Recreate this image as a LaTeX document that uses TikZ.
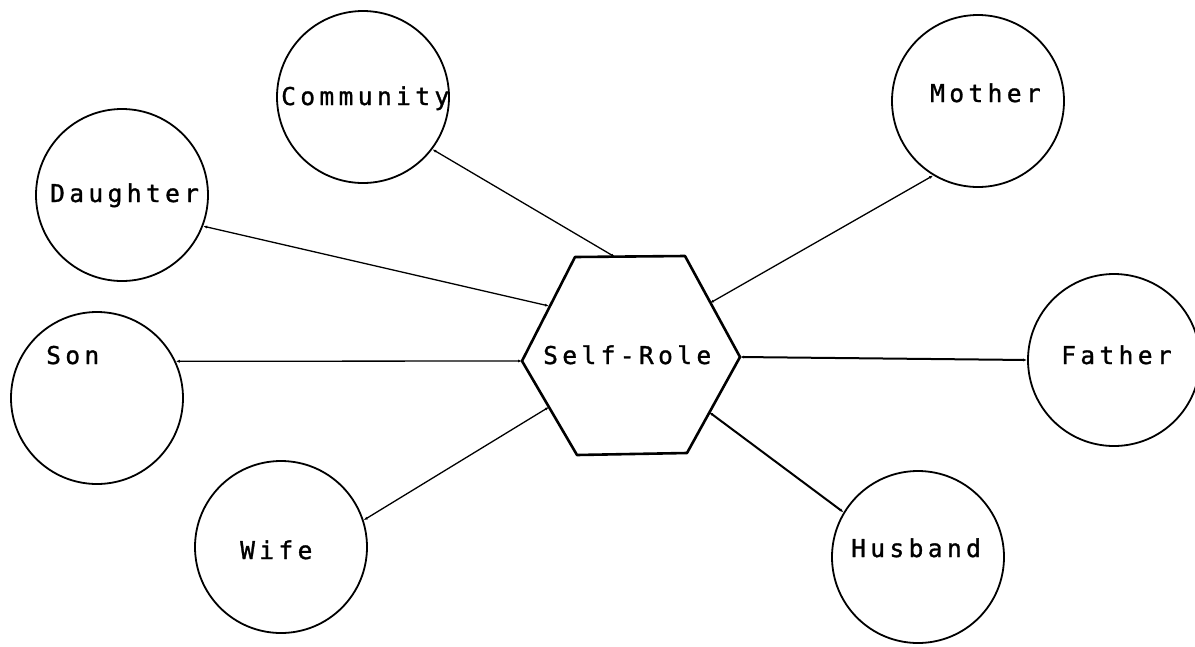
\documentclass[tikz,border=0pt]{standalone}
\usepackage{fontspec}
\newfontfamily\plotfont[LetterSpace=18,FakeBold=1.2]{DejaVu Sans Mono}
\usetikzlibrary{arrows.meta}
\tikzset{
  role/.style={circle, draw, line width=1.8pt, minimum size=172pt, inner sep=0pt},
  lbl/.style={anchor=base west, inner sep=0pt, font=\plotfont\fontsize{24.5pt}{24.5pt}\selectfont},
  hexline/.style={line width=2.6pt, line join=round},
  conn/.style={line width=1.3pt, {Latex[length=4pt,width=3pt]}-{Latex[length=4pt,width=3pt]}},
  thickconn/.style={conn, line width=2pt}
}
\begin{document}
\begin{tikzpicture}[x=1pt,y=-1pt]
\useasboundingbox (0,0) rectangle (1195,646);
% circles
\node[role] (com) at (363,97) {};
\node[role] (dau) at (122,195) {};
\node[role] (mot) at (978,101) {};
\node[role] (son) at (97,398) {};
\node[role] (fat) at (1114,360) {};
\node[role] (wif) at (281,547) {};
\node[role] (hus) at (918,557) {};
% labels
\node[lbl] (tcom) at (281,105) {Community};
\node[lbl] (tdau) at (50,202) {Daughter};
\node[lbl] (tmot) at (930,102) {Mother};
\node[lbl] (tson) at (46,364) {Son};
\node[lbl] (tfat) at (1061,364) {Father};
\node[lbl] (twif) at (240,559) {Wife};
\node[lbl] (thus) at (851,557) {Husband};
% hexagon
\coordinate (h1) at (575,257);
\coordinate (h2) at (685,256);
\coordinate (h3) at (740,357);
\coordinate (h4) at (687,453);
\coordinate (h5) at (577,455);
\coordinate (h6) at (522,361);
\draw[hexline] (h1) -- (h2) -- (h3) -- (h4) -- (h5) -- (h6) -- cycle;
\node[lbl] (self) at (543,364) {Self-Role};
% connection points on hexagon
\coordinate (pcom) at (615,257);
\coordinate (pdau) at (549,306);
\coordinate (pmot) at (710,303);
\coordinate (pwif) at (549,407);
\coordinate (phus) at (709,412);
% connectors
\draw[conn] (com.-37) -- (pcom);
\draw[conn] (dau.-21) -- (pdau);
\draw[conn] (mot.-121) -- (pmot);
\draw[conn] (son.25) -- (h6);
\draw[thickconn] (fat.180) -- (h3);
\draw[conn] (wif.18) -- (pwif);
\draw[thickconn] (hus.149) -- (phus);
\end{tikzpicture}
\end{document}
